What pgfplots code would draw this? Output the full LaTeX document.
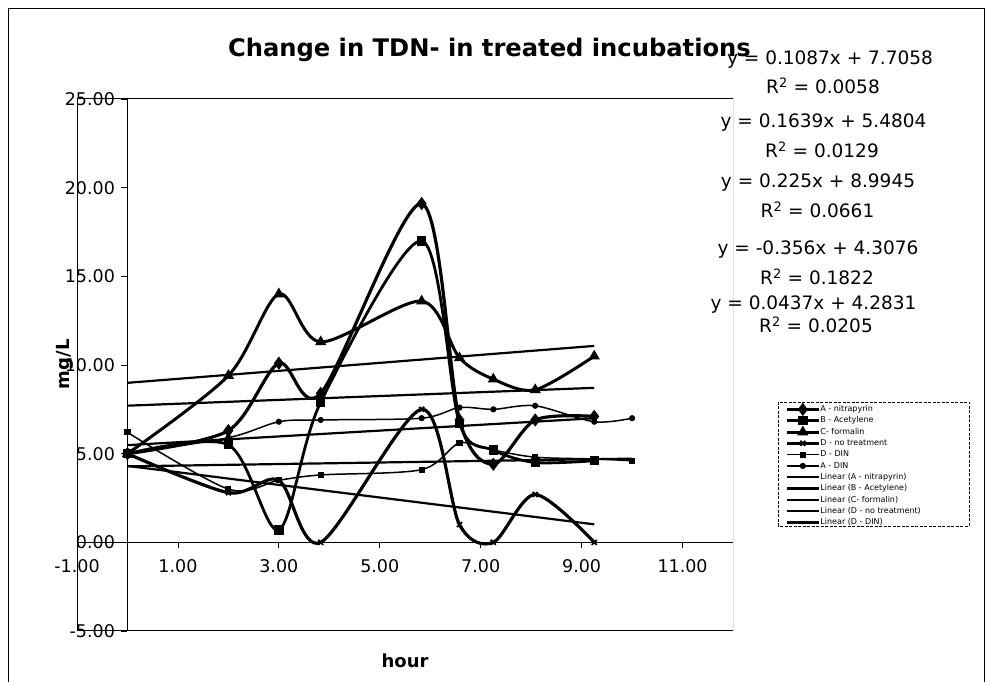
\documentclass[border=0pt]{standalone}
\usepackage{pgfplots}
\pgfplotsset{compat=1.18}
\usepackage{pgfplotstable}
\usepackage{fontspec}
\setmainfont{DejaVu Sans}

\pgfplotstableread{
x y
0 5.0
2 6.3
3 10.1
3.83 8.4
5.83 19.1
6.58 6.9
7.25 4.4
8.08 6.9
9.25 7.1
}\An
\pgfplotstableread{
x y
0 5.0
2 5.5
3 0.7
3.83 7.9
5.83 17.0
6.58 6.7
7.25 5.2
8.08 4.5
9.25 4.6
}\Bac
\pgfplotstableread{
x y
0 5.0
2 9.4
3 14.0
3.83 11.3
5.83 13.6
6.58 10.4
7.25 9.2
8.08 8.6
9.25 10.5
}\Cfo
\pgfplotstableread{
x y
0 5.0
2 2.8
3 3.5
3.83 0.0
5.83 7.5
6.58 1.0
7.25 0.0
8.08 2.7
9.25 0.0
}\Dno
\pgfplotstableread{
x y
0 6.2
2 3.0
3 3.5
3.83 3.8
5.83 4.1
6.58 5.6
7.25 5.2
8.08 4.8
9.25 4.7
10 4.6
}\Ddin
\pgfplotstableread{
x y
0 5.0
2 5.9
3 6.8
3.83 6.9
5.83 7.0
6.58 7.6
7.25 7.5
8.08 7.7
9.25 6.8
10 7.0
}\Adin

\begin{document}
\begin{tikzpicture}[x=1bp,y=1bp]
\useasboundingbox (0,0) rectangle (989,682);
\fill[white] (0,0) rectangle (989,682);
\draw[line width=0.8bp] (8,-2) -- (8,674) -- (984,674) -- (984,-2);
\begin{axis}[
  at={(77bp,51bp)}, anchor=south west,
  scale only axis, width=656bp, height=532bp,
  xmin=-1, xmax=12, ymin=-5, ymax=25,
  axis lines=middle,
  axis line style={-, line width=0.9bp},
  hide obscured x ticks=false, hide obscured y ticks=false,
  xtick={-1,1,3,5,7,9,11}, ytick={-5,0,5,10,15,20,25},
  minor tick num=0,
  tick align=outside, major tick length=6bp,
  tick style={line width=0.8bp, black},
  /pgf/number format/.cd, fixed, fixed zerofill, precision=2, assume math mode=true,
  /pgfplots/.cd,
  ticklabel style={font=\fontsize{17.5bp}{20bp}\selectfont},
  xticklabel style={yshift=-8bp},
  yticklabel style={xshift=-3bp},
  xlabel={hour}, ylabel={mg/L},
  every axis x label/.style={at={(rel axis cs:0.5,0)}, anchor=north, yshift=-19bp, font=\fontsize{18bp}{20bp}\selectfont\bfseries},
  every axis y label/.style={at={(rel axis cs:0,0.556)}, rotate=90, anchor=south, xshift=-29bp, font=\fontsize{18bp}{20bp}\selectfont\bfseries},
  legend style={at={(1.0793,0.4248)}, anchor=north west, draw=none, fill=none,
    font=\fontsize{8bp}{9bp}\selectfont, inner sep=0bp, row sep=2.8bp,
    nodes={inner sep=0bp, text height=6.5bp, text depth=2bp}},
  legend cell align=left,
  legend image code/.code={\draw[mark repeat=2,mark phase=2,#1] plot coordinates {(0bp,0bp) (16bp,0bp) (32bp,0bp)};},
  every axis plot/.append style={black, solid},
]
\draw[line width=1bp] (rel axis cs:0,0) rectangle (rel axis cs:1,1);

\addplot[line width=3.2bp, smooth, tension=0.5, mark=diamond*, mark size=4bp] table {\An};
\addlegendentry{A - nitrapyrin}
\addplot[line width=2.8bp, smooth, tension=0.5, mark=square*, mark size=3.3bp] table {\Bac};
\addlegendentry{B - Acetylene}
\addplot[line width=3bp, smooth, tension=0.5, mark=triangle*, mark size=3.5bp] table {\Cfo};
\addlegendentry{C- formalin}
\addplot[line width=3.2bp, smooth, tension=0.5, mark=x, mark size=3.5bp, mark options={line width=1.8bp}] table {\Dno};
\addlegendentry{D - no treatment}
\addplot[line width=1.5bp, smooth, tension=0.5, mark=square*, mark size=2.3bp] table {\Ddin};
\addlegendentry{D - DIN}
\addplot[line width=1.5bp, smooth, tension=0.5, mark=*, mark size=2.3bp] table {\Adin};
\addlegendentry{A - DIN}

\addplot[line width=2.2bp, no marks] coordinates {(0,7.7058) (9.25,8.7113)};
\addlegendentry{Linear (A - nitrapyrin)}
\addplot[line width=2.2bp, no marks] coordinates {(0,5.4804) (9.25,6.9965)};
\addlegendentry{Linear (B - Acetylene)}
\addplot[line width=2.2bp, no marks] coordinates {(0,8.9945) (9.25,11.0758)};
\addlegendentry{Linear (C- formalin)}
\addplot[line width=2.2bp, no marks] coordinates {(0,4.3076) (9.25,1.0146)};
\addlegendentry{Linear (D - no treatment)}
\addplot[line width=2.2bp, no marks] coordinates {(0,4.2831) (10,4.7201)};
\addlegendentry{Linear (D - DIN)}
\end{axis}

\draw[line width=0.6bp, dash pattern=on 3bp off 1.5bp] (778,280) rectangle (969,156);

\node[anchor=base east, font=\fontsize{24.2bp}{26bp}\selectfont\bfseries, inner sep=0pt] at (751,625) {Change in TDN- in treated incubations};

\begin{scope}[every node/.style={anchor=base, inner sep=0pt, font=\fontsize{18.5bp}{21bp}\selectfont}]
\node at (830,617) {y = 0.1087x + 7.7058};
\node at (823,588) {R\textsuperscript{2} = 0.0058};
\node at (823.5,554) {y = 0.1639x + 5.4804};
\node at (822,524) {R\textsuperscript{2} = 0.0129};
\node at (818,494) {y = 0.225x + 8.9945};
\node at (817.5,464) {R\textsuperscript{2} = 0.0661};
\node at (818,427) {y = -0.356x + 4.3076};
\node at (817,397) {R\textsuperscript{2} = 0.1822};
\node at (813.5,372) {y = 0.0437x + 4.2831};
\node at (816,349) {R\textsuperscript{2} = 0.0205};
\end{scope}
\end{tikzpicture}
\end{document}
